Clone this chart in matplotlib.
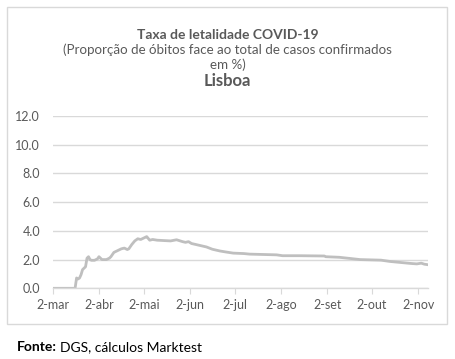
import matplotlib
matplotlib.use("Agg")
import matplotlib.pyplot as plt
from matplotlib.patches import Rectangle
import pandas as pd

dates = ["2020-03-02", "2020-03-17", "2020-03-18", "2020-03-19", "2020-03-20", "2020-03-21",
         "2020-03-22", "2020-03-23", "2020-03-24", "2020-03-25", "2020-03-26", "2020-03-27",
         "2020-03-28", "2020-03-30", "2020-04-01", "2020-04-02", "2020-04-04", "2020-04-07",
         "2020-04-09", "2020-04-10", "2020-04-12", "2020-04-14", "2020-04-17", "2020-04-19",
         "2020-04-21", "2020-04-22", "2020-04-24", "2020-04-26", "2020-04-28", "2020-04-30",
         "2020-05-03", "2020-05-04", "2020-05-06", "2020-05-08", "2020-05-11", "2020-05-20",
         "2020-05-24", "2020-05-28", "2020-05-30", "2020-06-01", "2020-06-03", "2020-06-08",
         "2020-06-13", "2020-06-17", "2020-06-22", "2020-06-26", "2020-07-01", "2020-07-08",
         "2020-07-12", "2020-07-30", "2020-08-03", "2020-08-14", "2020-08-31", "2020-09-01",
         "2020-09-10", "2020-09-18", "2020-09-24", "2020-10-08", "2020-10-14", "2020-10-21",
         "2020-10-28", "2020-11-01", "2020-11-04", "2020-11-06", "2020-11-08"]
values = [0.0, 0.0, 0.72, 0.65, 0.72, 0.95,
          1.3, 1.4, 1.5, 2.1, 2.2, 2.0,
          1.95, 1.95, 2.05, 2.2, 2.0, 2.0,
          2.1, 2.2, 2.5, 2.6, 2.75, 2.8,
          2.7, 2.75, 3.05, 3.3, 3.45, 3.4,
          3.55, 3.6, 3.35, 3.4, 3.35, 3.3,
          3.38, 3.25, 3.2, 3.25, 3.12, 3.0,
          2.88, 2.72, 2.6, 2.53, 2.45, 2.42,
          2.38, 2.33, 2.27, 2.27, 2.25, 2.2,
          2.16, 2.07, 2.0, 1.96, 1.87, 1.8,
          1.73, 1.7, 1.75, 1.68, 1.65]

tick_dates = ["2020-03-02", "2020-04-02", "2020-05-02", "2020-06-02", "2020-07-02",
              "2020-08-02", "2020-09-02", "2020-10-02", "2020-11-02"]
tick_labels = ["2-mar", "2-abr", "2-mai", "2-jun", "2-jul", "2-ago", "2-set", "2-out", "2-nov"]
y_ticks = [0, 2, 4, 6, 8, 10, 12]

plt.rcParams['font.family'] = ['Lato', 'DejaVu Sans']

fig = plt.figure(figsize=(4.55, 3.59), dpi=100)
fig.patch.set_facecolor("white")

# chart border
fig.patches.append(Rectangle((6.5/455, 1 - 323.5/359), 440/455, 317/359,
                             transform=fig.transFigure, fill=False,
                             edgecolor="#D9D9D9", linewidth=1.0))

ax = fig.add_axes([52.7/455, 1 - 288.3/359, (428 - 52.7)/455, (288.3 - 116)/359])
x = pd.to_datetime(dates)
ax.plot(x, values, color="#BFBFBF", linewidth=2.0, solid_joinstyle="round")

ax.set_xlim(pd.Timestamp("2020-03-02"), pd.Timestamp("2020-11-08 12:00"))
ax.set_ylim(0, 12)
ax.set_yticks(y_ticks)
ax.set_yticklabels([f"{v:.1f}" for v in y_ticks])
ax.set_xticks(pd.to_datetime(tick_dates))
ax.set_xticklabels(tick_labels)

ax.grid(axis="y", color="#D9D9D9", linewidth=1.0)
ax.set_axisbelow(True)
for s in ["top", "right", "left"]:
    ax.spines[s].set_visible(False)
ax.spines["bottom"].set_color("#D9D9D9")
ax.spines["bottom"].set_linewidth(1.0)
ax.tick_params(axis="y", length=0, pad=9, labelsize=9, labelcolor="#595959")
ax.tick_params(axis="x", length=4, color="#D9D9D9", direction="out", pad=4,
               labelsize=9, labelcolor="#595959")

fig.text(0.5, 1 - 35/359, "Taxa de letalidade COVID-19", ha="center", va="center",
         fontsize=10, fontweight="bold", color="#595959")
fig.text(0.5, 1 - 50/359, "(Proporção de óbitos face ao total de casos confirmados",
         ha="center", va="center", fontsize=9.6, color="#595959")
fig.text(0.5, 1 - 65/359, "em %)", ha="center", va="center", fontsize=9.6, color="#595959")
fig.text(0.5, 1 - 81/359, "Lisboa", ha="center", va="center", fontsize=12,
         fontweight="bold", color="#595959")

t1 = fig.text(17/455, 1 - 347/359, "Fonte:", ha="left", va="center", fontsize=10,
              fontweight="bold", color="black")
fig.canvas.draw()
bb = t1.get_window_extent()
fig.text((bb.x1 + 3)/455, 1 - 347/359, "DGS, cálculos Marktest", ha="left", va="center",
         fontsize=10, color="black")

fig.savefig("out.png", dpi=100, facecolor="white")
